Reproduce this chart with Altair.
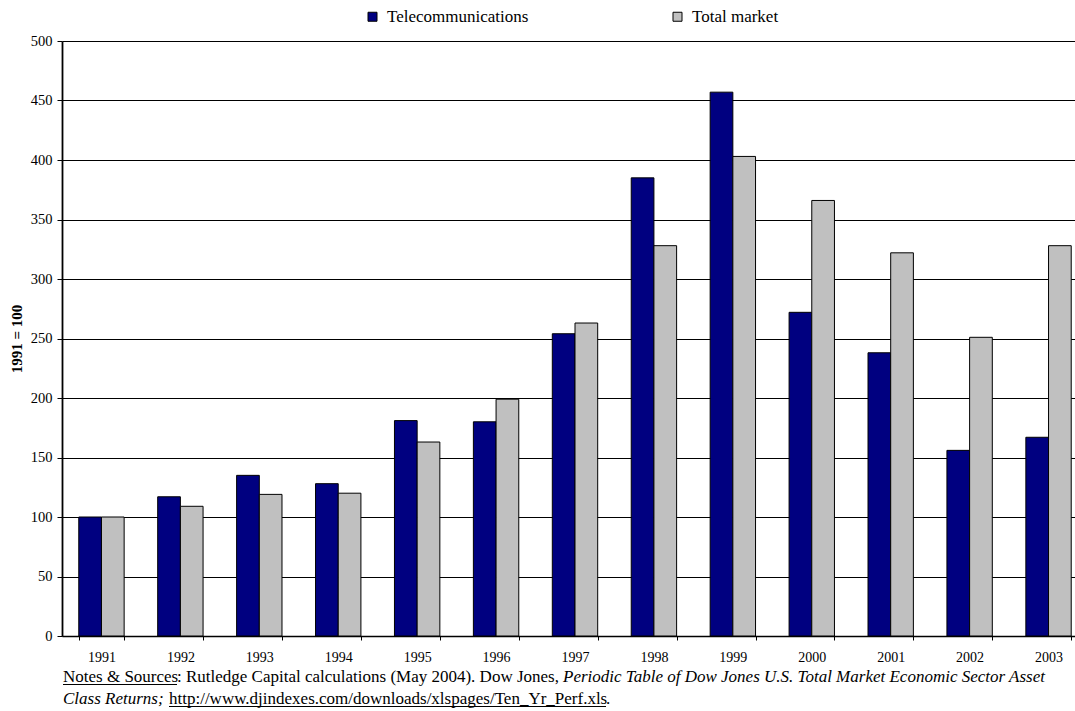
import altair as alt
import pandas as pd

years = ["1991", "1992", "1993", "1994", "1995", "1996", "1997",
         "1998", "1999", "2000", "2001", "2002", "2003"]
telecom = [100, 117, 135, 128, 181, 180, 254, 385, 457, 272, 238, 156, 167]
total_market = [100, 109, 119, 120, 163, 199, 263, 328, 403, 366, 322, 251, 328]
series_names = ["Telecommunications", "Total market"]
series_colors = ["#000080", "#C0C0C0"]
y_ticks = [0, 50, 100, 150, 200, 250, 300, 350, 400, 450, 500]

note_line1 = ["Notes & Sources", ": Rutledge Capital calculations (May 2004). Dow Jones, ",
              "Periodic Table of Dow Jones U.S. Total Market Economic Sector Asset"]
note_line2 = ["Class Returns;", "http://www.djindexes.com/downloads/xlspages/Ten_Yr_Perf.xls", "."]

rows = []
for i, y in enumerate(years):
    rows.append({"year": y, "series": series_names[0], "value": telecom[i]})
    rows.append({"year": y, "series": series_names[1], "value": total_market[i]})
df = pd.DataFrame(rows)

FONT = "Liberation Serif"
VIEW_W, VIEW_H = 1013, 595
LEFT, TOP = 62, 41

bars = alt.Chart(df).mark_bar(stroke="black", strokeWidth=1).encode(
    x=alt.X("year:N", sort=years,
            scale=alt.Scale(range=[0, 1026], paddingInner=0.425, paddingOuter=0.2125),
            axis=alt.Axis(title=None, tickBand="extent", ticks=True, tickSize=4,
                          tickColor="black", labelPadding=10, labelFontSize=14,
                          labelFont=FONT, labelColor="black", labelAngle=0,
                          domainColor="black", domainWidth=1.5, grid=False)),
    xOffset=alt.XOffset("series:N", sort=series_names,
                        scale=alt.Scale(paddingInner=0, paddingOuter=0)),
    y=alt.Y("value:Q", scale=alt.Scale(domain=[0, 500], nice=False),
            axis=alt.Axis(values=y_ticks, title="1991 = 100", titleFont=FONT,
                          titleFontSize=15, titleFontWeight="bold", titleColor="black",
                          titlePadding=6, labelFont=FONT, labelFontSize=14.5,
                          labelColor="black", labelPadding=5, tickSize=5,
                          tickColor="black", domainColor="black", domainWidth=1.8,
                          grid=True, gridColor="black", gridWidth=1.2)),
    color=alt.Color("series:N", sort=series_names,
                    scale=alt.Scale(domain=series_names, range=series_colors),
                    legend=alt.Legend(title=None, orient="none", direction="horizontal",
                                      legendX=302, legendY=-33, padding=0,
                                      symbolType="square", symbolSize=81,
                                      symbolStrokeColor="black", symbolStrokeWidth=1,
                                      symbolOpacity=1,
                                      labelFont=FONT, labelFontSize=17, labelColor="black",
                                      labelOffset=6, columnPadding=140)),
)

def text_layer(txt, x, y, italic=False):
    return alt.Chart(pd.DataFrame({"t": [txt]})).mark_text(
        align="left", baseline="alphabetic", font=FONT, fontSize=17,
        fontStyle="italic" if italic else "normal", color="black"
    ).encode(x=alt.value(x), y=alt.value(y), text="t:N")

def underline(x1, x2, y):
    return alt.Chart(pd.DataFrame({"u": [0]})).mark_rule(color="black", strokeWidth=1).encode(
        x=alt.value(x1), x2=alt.value(x2), y=alt.value(y))

y1 = 682 - TOP
y2 = 704 - TOP
layers = [
    bars,
    text_layer(note_line1[0], 63 - LEFT, y1),
    text_layer(note_line1[1], 177 - LEFT, y1),
    text_layer(note_line1[2], 563 - LEFT, y1, italic=True),
    text_layer(note_line2[0], 63 - LEFT, y2, italic=True),
    text_layer(note_line2[1], 169 - LEFT, y2),
    text_layer(note_line2[2], 606 - LEFT, y2),
    underline(63 - LEFT, 177 - LEFT, y1 + 2.5),
    underline(169 - LEFT, 606 - LEFT, y2 + 2.5),
]

chart = alt.layer(*layers).properties(
    width=VIEW_W, height=VIEW_H,
    autosize=alt.AutoSizeParams(type="none"),
    padding={"left": LEFT, "top": TOP, "right": 0, "bottom": 75},
    background="white",
).configure_view(stroke=None)

chart.save("out.html", embed_options={"renderer": "svg", "actions": False})
